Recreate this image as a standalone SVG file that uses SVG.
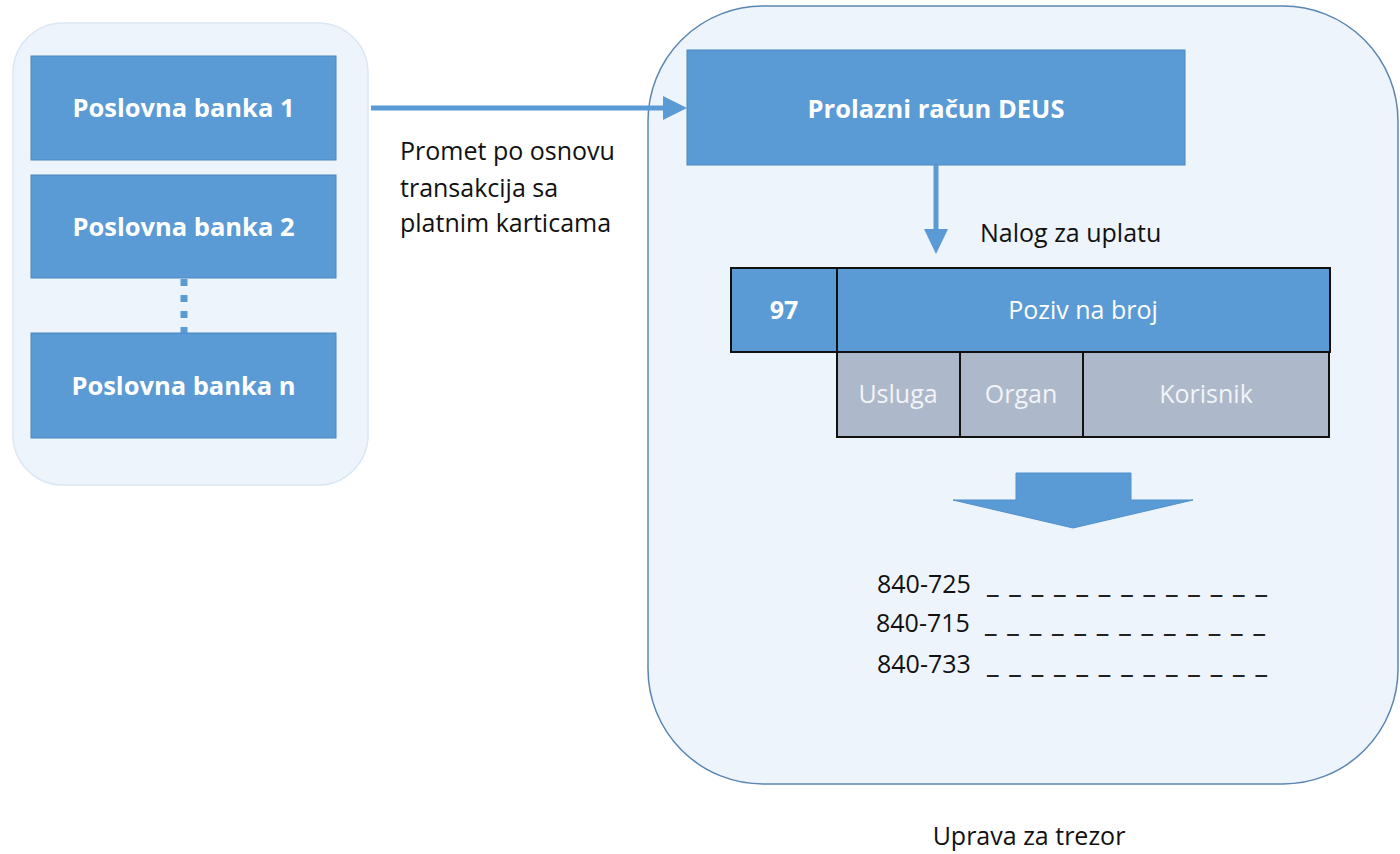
<svg xmlns="http://www.w3.org/2000/svg" width="1400" height="854" viewBox="0 0 1400 854">
<style>
.box{fill:#5b9bd5;stroke:#4a86bd;stroke-width:1}
.cell1{fill:#5b9bd5;stroke:#111;stroke-width:2}
.cell2{fill:#adb9ca;stroke:#111;stroke-width:2}
.bt{font-family:"Open Sans","Liberation Sans",sans-serif;font-weight:bold;fill:#fff;text-anchor:middle}
.wt{font-family:"Open Sans","Liberation Sans",sans-serif;fill:#fff;text-anchor:middle;font-size:25px}
.lt{font-family:"Open Sans","Liberation Sans",sans-serif;fill:#f2f4f8;text-anchor:middle;font-size:25px}
.tx{font-family:"Open Sans","Liberation Sans",sans-serif;fill:#111;font-size:25px}
.dash{font-family:"Open Sans","Liberation Sans",sans-serif;fill:#222;font-size:28px;font-weight:bold}
.conn{stroke:#5b9bd5;stroke-width:5;fill:none}
</style>
<g id="container-banks">
<rect x="13" y="23" width="355" height="462" rx="50" ry="50" fill="#edf4fb" stroke="#dbe7f3" stroke-width="1.5"/>
</g>
<g id="container-trezor">
<rect x="648" y="6" width="750" height="778" rx="115" ry="115" fill="#edf4fb" stroke="#5a86b3" stroke-width="1.5"/>
<text class="tx" x="1029" y="845" text-anchor="middle">Uprava za trezor</text>
</g>
<g id="bank1">
<rect class="box" x="31" y="56" width="305" height="104"/>
<text class="bt" x="183.5" y="117" font-size="25.5">Poslovna banka 1</text>
</g>
<g id="bank2">
<rect class="box" x="31" y="175" width="305" height="103"/>
<text class="bt" x="183.5" y="236" font-size="25.5">Poslovna banka 2</text>
</g>
<g id="bankn">
<rect class="box" x="31" y="333" width="305" height="105"/>
<text class="bt" x="183.5" y="395" font-size="25.5">Poslovna banka n</text>
</g>
<g id="deus">
<rect class="box" x="687" y="50" width="498" height="115"/>
<text class="bt" x="936" y="118" font-size="25.5">Prolazni račun DEUS</text>
</g>
<g id="nalog-label">
<text class="tx" x="980" y="242">Nalog za uplatu</text>
</g>
<g id="payment-table">
<rect class="cell1" x="731" y="268" width="106" height="84"/>
<rect class="cell1" x="837" y="268" width="493" height="84"/>
<rect class="cell2" x="837" y="352" width="123" height="85"/>
<rect class="cell2" x="960" y="352" width="123" height="85"/>
<rect class="cell2" x="1083" y="352" width="246" height="85"/>
<text class="bt" x="784" y="319" font-size="25">97</text>
<text class="wt" x="1083" y="319">Poziv na broj</text>
<text class="lt" x="898" y="403">Usluga</text>
<text class="lt" x="1021" y="403">Organ</text>
<text class="lt" x="1206" y="403">Korisnik</text>
</g>
<g id="block-arrow">
<polygon points="1016,473 1131,473 1131,500 1193,500 1073,528 953,500 1016,500" fill="#5b9bd5" stroke="#5091cc" stroke-width="1"/>
</g>
<g id="accounts">
<text class="tx" x="877" y="593" font-size="26.5">840-725</text>
<text class="dash" x="987" y="592" textLength="280" lengthAdjust="spacing">_ _ _ _ _ _ _ _ _ _ _ _ _</text>
<text class="tx" x="876" y="632" font-size="26.5">840-715</text>
<text class="dash" x="985" y="631" textLength="280" lengthAdjust="spacing">_ _ _ _ _ _ _ _ _ _ _ _ _</text>
<text class="tx" x="877" y="673" font-size="26.5">840-733</text>
<text class="dash" x="987" y="672" textLength="280" lengthAdjust="spacing">_ _ _ _ _ _ _ _ _ _ _ _ _</text>
</g>
<g id="connectors">
<line x1="184" y1="279" x2="184" y2="333" stroke="#5b9bd5" stroke-width="7" stroke-dasharray="7 9"/>
<line class="conn" x1="371" y1="108" x2="665" y2="108"/>
<polygon points="663,96 687,108 663,120" fill="#5b9bd5"/>
<line class="conn" x1="936" y1="165" x2="936" y2="231"/>
<polygon points="924,229 948,229 936,254" fill="#5b9bd5"/>
<text class="tx" x="400" y="160">Promet po osnovu</text>
<text class="tx" x="400" y="197">transakcija sa</text>
<text class="tx" x="400" y="232">platnim karticama</text>
</g>
</svg>
